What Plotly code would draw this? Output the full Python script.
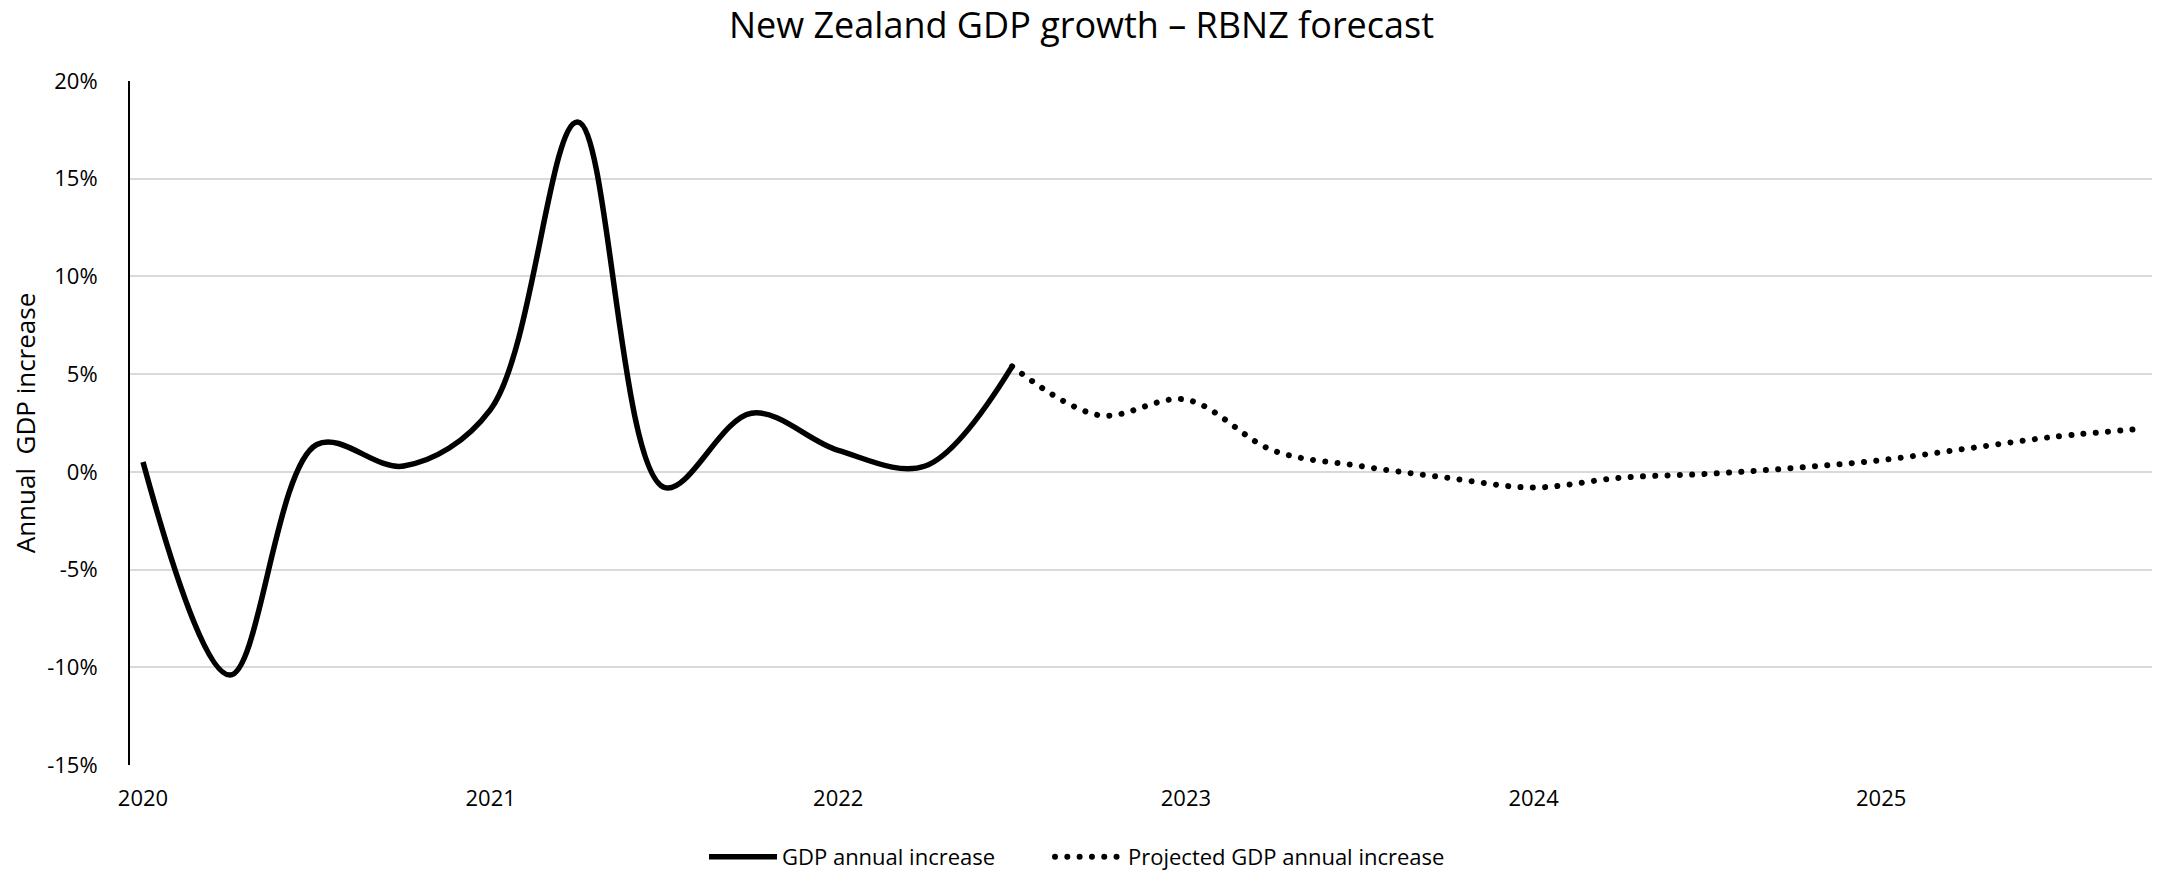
import plotly.graph_objects as go

# Quarterly time positions (year fractions)
actual_x = [2020.0, 2020.25, 2020.5, 2020.75, 2021.0, 2021.25, 2021.5, 2021.75,
            2022.0, 2022.25, 2022.5]
actual_y = [0.5, -10.4, 1.4, 0.3, 3.2, 17.9, -0.8, 3.0, 1.1, 0.3, 5.4]

proj_x = [2022.5, 2022.75, 2023.0, 2023.25, 2023.5, 2023.75, 2024.0, 2024.25,
          2024.5, 2024.75, 2025.0, 2025.25, 2025.5, 2025.75]
proj_y = [5.4, 2.9, 3.7, 1.1, 0.3, -0.3, -0.8, -0.3, -0.1, 0.2, 0.6, 1.2, 1.8, 2.2]

x_tick_vals = [2020, 2021, 2022, 2023, 2024, 2025]
x_tick_text = ["2020", "2021", "2022", "2023", "2024", "2025"]
y_tick_vals = [-15, -10, -5, 0, 5, 10, 15, 20]
y_tick_text = ["-15%", "-10%", "-5%", "0%", "5%", "10%", "15%", "20%"]

FONT = "Open Sans"

fig = go.Figure()
fig.add_trace(go.Scatter(
    x=actual_x, y=actual_y, mode="lines", name="GDP annual increase",
    line=dict(color="black", width=5.5, shape="spline", smoothing=1.0),
    legend="legend",
))
fig.add_trace(go.Scatter(
    x=proj_x, y=proj_y, mode="lines", name="Projected GDP annual increase",
    line=dict(color="black", width=6, shape="spline", smoothing=1.0, dash="6px,6px"),
    legend="legend2",
))

legend_common = dict(orientation="h", xref="container", yref="container",
                     xanchor="left", y=1 - 857 / 872, yanchor="middle",
                     font=dict(size=22), itemwidth=68, bgcolor="rgba(0,0,0,0)")

fig.update_layout(
    width=2163, height=872,
    paper_bgcolor="white", plot_bgcolor="white",
    margin=dict(l=130, r=11, t=81, b=107),
    font=dict(family=FONT, size=22, color="black"),
    title=dict(text="New Zealand GDP growth – RBNZ forecast", x=0.5, xanchor="center",
               y=1 - 25 / 872, yanchor="middle", font=dict(size=36, color="black")),
    showlegend=True,
    legend=dict(x=704 / 2163, **legend_common),
    legend2=dict(x=1050 / 2163, **legend_common),
    xaxis=dict(range=[2019.9626, 2025.779], tickvals=x_tick_vals, ticktext=x_tick_text,
               showgrid=False, zeroline=False, showline=False, ticks="",
               ticklabelstandoff=18, tickfont=dict(size=22), automargin=False),
    yaxis=dict(range=[-15, 20], tickvals=y_tick_vals, ticktext=y_tick_text,
               showgrid=True, gridcolor="#d9d9d9", gridwidth=1.5, zeroline=False,
               showline=True, linecolor="black", linewidth=2, ticks="",
               ticklabelstandoff=26, tickfont=dict(size=22), automargin=False,
               title=dict(text="Annual\u00a0 GDP increase", font=dict(size=26), standoff=4)),
)

post = """
document.body.style.margin = '0';
document.body.style.padding = '0';
var gd = document.getElementsByClassName('plotly-graph-div')[0];
function roundDots(){
  document.querySelectorAll('path.js-line').forEach(function(p){
    var d = p.style.strokeDasharray;
    if (d && d !== 'none' && d.indexOf('6px') >= 0) {
      p.style.strokeLinecap = 'round';
      p.style.strokeDasharray = '0.01px, 12.3px';
    }
  });
}
roundDots();
if (gd && gd.on) { gd.on('plotly_afterplot', roundDots); }
"""
fig.write_html("out.html", post_script=post, config={"displayModeBar": False})
